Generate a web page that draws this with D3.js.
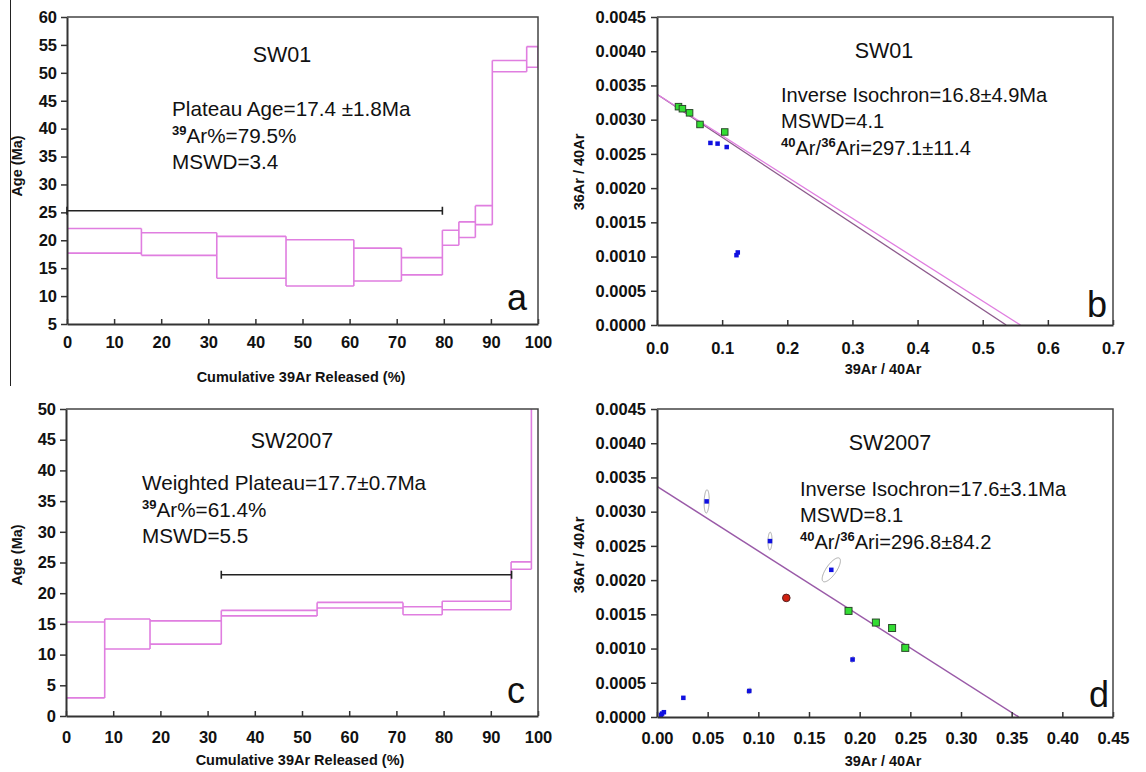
<!DOCTYPE html>
<html>
<head>
<meta charset="utf-8">
<script src="https://cdn.jsdelivr.net/npm/d3@7"></script>
<style>
  html, body { margin: 0; padding: 0; background: #fff; }
  svg { display: block; font-family: "Liberation Sans", Arial, sans-serif; }
</style>
</head>
<body>
<svg id="fig" width="1146" height="772"></svg>
<script>
// ---- SW01 age spectrum (step boundaries in cumulative %, 2-sigma envelope in Ma)
const spectrumA_bounds = [0, 15.8, 31.8, 46.5, 60.9, 71.0, 79.7, 83.2, 86.7, 90.3, 97.6, 100];
const spectrumA_low    = [17.7, 17.3, 13.2, 11.8, 12.7, 13.8, 19.1, 20.5, 22.8, 50.2, 51.0];
const spectrumA_high   = [22.1, 21.35, 20.7, 20.1, 18.6, 16.9, 21.8, 23.3, 26.2, 52.2, 54.7];
const plateauA = { from: 0, to: 79.7, age: 25.3 };
const textA = ["Plateau Age=17.4 ±1.8Ma", "39|Ar%=79.5%", "MSWD=3.4"];

// ---- SW2007 age spectrum
const spectrumC_bounds = [0, 8.2, 17.8, 32.9, 53.2, 71.4, 79.7, 94.3, 98.6, 100];
const spectrumC_low    = [2.95, 10.9, 11.7, 16.3, 17.6, 16.5, 17.3, 23.9, 55];
const spectrumC_high   = [15.3, 15.8, 15.5, 17.2, 18.5, 17.8, 18.7, 25.1, 70];
const plateauC = { from: 32.9, to: 94.4, age: 23.0 };
const textC = ["Weighted Plateau=17.7±0.7Ma", "39|Ar%=61.4%", "MSWD=5.5"];

// ---- SW01 inverse isochron
const isoB_greenX = [0.033, 0.039, 0.050, 0.066, 0.104];
const isoB_greenY = [0.00319, 0.00316, 0.00310, 0.00293, 0.00282];
const isoB_blueX  = [0.082, 0.093, 0.107, 0.122, 0.124];
const isoB_blueY  = [0.00266, 0.00265, 0.00260, 0.00102, 0.00106];
const isoB_intercept = 0.00337;           // 36Ar/40Ar at 39Ar/40Ar = 0
const isoB_xIntercepts = [0.536, 0.558];  // fitted line, envelope line
const textB = ["Inverse Isochron=16.8±4.9Ma", "MSWD=4.1", "40|Ar/|36|Ari=297.1±11.4"];

// ---- SW2007 inverse isochron
const isoD_greenX = [0.189, 0.216, 0.232, 0.245];
const isoD_greenY = [0.00155, 0.00138, 0.00130, 0.00101];
const isoD_redX = [0.1276];
const isoD_redY = [0.00174];
const isoD_blueX = [0.049, 0.1115, 0.172, 0.193, 0.091, 0.026, 0.0068, 0.0050, 0.0040];
const isoD_blueY = [0.00315, 0.00257, 0.00215, 0.00084, 0.00038, 0.00028, 0.00007, 0.00005, 0.00003];
// error ellipses for blue steps: x error, y error, correlation
const isoD_errX = [0.0025, 0.0020, 0.0090, 0.0020, 0.0022];
const isoD_errY = [0.00017, 0.00013, 0.000175, 0.00004, 0.00004];
const isoD_rho  = [0.15, 0.1, 0.75, 0.3, 0.3];
const isoD_intercept = 0.00337;
const isoD_xIntercept = 0.357;
const textD = ["Inverse Isochron=17.6±3.1Ma", "MSWD=8.1", "40|Ar/|36|Ari=296.8±84.2"];

const svg = d3.select("#fig");
const PINK = "#e07ee0";
const AXIS = "#333";

// thin rule at far left of the top row
svg.append("line").attr("x1", 10.5).attr("x2", 10.5).attr("y1", 0).attr("y2", 386)
  .attr("stroke", "#222").attr("stroke-width", 1);

function panel(opt) {
  const g = svg.append("g");
  const x = d3.scaleLinear().domain(opt.xDomain).range([opt.left, opt.right]);
  const y = d3.scaleLinear().domain(opt.yDomain).range([opt.bottom, opt.top]);
  const clipId = "clip-" + opt.letter;
  svg.append("clipPath").attr("id", clipId).append("rect")
    .attr("x", opt.left).attr("y", opt.top)
    .attr("width", opt.right - opt.left).attr("height", opt.bottom - opt.top);
  const plot = g.append("g").attr("clip-path", `url(#${clipId})`);

  // y axis (ticks outward)
  const yAxis = g.append("g").attr("transform", `translate(${opt.left},0)`)
    .call(d3.axisLeft(y).tickValues(opt.yTicks).tickFormat(opt.yFormat).tickSize(6).tickSizeOuter(0).tickPadding(opt.yPad));
  // x axis (ticks inward)
  const xAxis = g.append("g").attr("transform", `translate(0,${opt.bottom})`)
    .call(d3.axisBottom(x).tickValues(opt.xTicks).tickFormat(opt.xFormat).tickSize(-5).tickSizeOuter(0).tickPadding(opt.xPad));
  [yAxis, xAxis].forEach(a => {
    a.selectAll("path.domain").attr("stroke", AXIS).attr("stroke-width", 2);
    a.selectAll(".tick line").attr("stroke", AXIS).attr("stroke-width", 1.5);
    a.selectAll(".tick text").attr("fill", "#111").attr("font-size", 16.5).attr("font-weight", "bold");
  });
  // frame top / right
  g.append("path")
    .attr("d", `M${opt.left},${opt.top}H${opt.right}V${opt.bottom}`)
    .attr("fill", "none").attr("stroke", "#444").attr("stroke-width", 1.5);

  // axis titles
  g.append("text").attr("x", opt.xTitleX).attr("y", opt.xTitleY)
    .attr("text-anchor", "middle").attr("font-size", 14.5).attr("font-weight", "bold").attr("fill", "#111")
    .text(opt.xTitle);
  g.append("text").attr("transform", `translate(${opt.yTitleX},${opt.yTitleCy}) rotate(-90)`)
    .attr("text-anchor", "middle").attr("font-size", 14.5).attr("font-weight", "bold").attr("fill", "#111")
    .text(opt.yTitle);

  // sample title and annotation lines
  g.append("text").attr("x", opt.titleX).attr("y", opt.titleY).attr("text-anchor", "middle")
    .attr("font-size", 21.5).attr("fill", "#111").text(opt.title);
  opt.lines.forEach((ln, i) => {
    const t = g.append("text").attr("x", opt.textX).attr("y", opt.textY[i])
      .attr("font-size", opt.textSize).attr("fill", "#111");
    const parts = ln.split("|");
    if (parts.length === 1) { t.text(ln); return; }
    // mass numbers are raised, the rest sits on the baseline
    parts.forEach((p, k) => {
      const isSup = /^\d+$/.test(p);
      t.append("tspan").attr("font-size", isSup ? 13 : opt.textSize)
        .attr("font-weight", isSup ? "bold" : "normal")
        .attr("dy", isSup ? -8 : (k > 0 ? 8 : 0)).text(p);
    });
  });
  // panel letter
  g.append("text").attr("x", opt.letterX).attr("y", opt.letterY).attr("text-anchor", "middle")
    .attr("font-size", 36).attr("fill", "#111").text(opt.letter);

  return { g, plot, x, y };
}

function spectrum(p, bounds, low, high, plateau) {
  const path = d3.path();
  // horizontal segments of each step
  for (let i = 0; i < low.length; i++) {
    path.moveTo(p.x(bounds[i]), p.y(low[i])); path.lineTo(p.x(bounds[i + 1]), p.y(low[i]));
    path.moveTo(p.x(bounds[i]), p.y(high[i])); path.lineTo(p.x(bounds[i + 1]), p.y(high[i]));
  }
  // vertical connectors at every boundary
  for (let i = 0; i <= low.length; i++) {
    const vals = [];
    if (i > 0) vals.push(low[i - 1], high[i - 1]);
    if (i < low.length) vals.push(low[i], high[i]);
    path.moveTo(p.x(bounds[i]), p.y(d3.min(vals)));
    path.lineTo(p.x(bounds[i]), p.y(d3.max(vals)));
  }
  p.plot.append("path").attr("d", path.toString()).attr("fill", "none")
    .attr("stroke", PINK).attr("stroke-width", 1.6);
  // plateau bar
  const yy = p.y(plateau.age), x0 = p.x(plateau.from), x1 = p.x(plateau.to);
  p.g.append("path")
    .attr("d", `M${x0},${yy}H${x1}M${x0},${yy - 4}V${yy + 4}M${x1},${yy - 4}V${yy + 4}`)
    .attr("stroke", "#222").attr("stroke-width", 1.6).attr("fill", "none");
}

function isoLine(p, intercept, xInt, color, w) {
  p.plot.append("line")
    .attr("x1", p.x(0)).attr("y1", p.y(intercept))
    .attr("x2", p.x(xInt)).attr("y2", p.y(0))
    .attr("stroke", color).attr("stroke-width", w);
}

function squares(p, xs, ys, size, fill, stroke) {
  p.plot.append("g").selectAll("rect").data(xs).join("rect")
    .attr("x", (d) => p.x(d) - size / 2)
    .attr("y", (d, i) => p.y(ys[i]) - size / 2)
    .attr("width", size).attr("height", size)
    .attr("fill", fill).attr("stroke", stroke).attr("stroke-width", stroke === "none" ? 0 : 1);
}

// ---------------- Panel a ----------------
const pa = panel({
  left: 67, right: 538, top: 17, bottom: 324,
  xDomain: [0, 100], yDomain: [5, 60],
  xTicks: d3.range(0, 101, 10), yTicks: d3.range(5, 61, 5),
  xFormat: d3.format("d"), yFormat: d3.format("d"), xPad: 12, yPad: 4,
  xTitle: "Cumulative 39Ar Released (%)", xTitleX: 301, xTitleY: 382,
  yTitle: "Age (Ma)", yTitleX: 22, yTitleCy: 166,
  title: "SW01", titleX: 282, titleY: 62,
  lines: textA, textX: 172, textY: [116, 143, 169], textSize: 20.7,
  letter: "a", letterX: 517, letterY: 310
});
spectrum(pa, spectrumA_bounds, spectrumA_low, spectrumA_high, plateauA);

// ---------------- Panel c ----------------
const pc = panel({
  left: 66, right: 538, top: 409, bottom: 716,
  xDomain: [0, 100], yDomain: [0, 50],
  xTicks: d3.range(0, 101, 10), yTicks: d3.range(0, 51, 5),
  xFormat: d3.format("d"), yFormat: d3.format("d"), xPad: 15, yPad: 4,
  xTitle: "Cumulative 39Ar Released (%)", xTitleX: 300, xTitleY: 765,
  yTitle: "Age (Ma)", yTitleX: 22, yTitleCy: 555,
  title: "SW2007", titleX: 292, titleY: 448,
  lines: textC, textX: 142, textY: [490, 517, 543], textSize: 20.7,
  letter: "c", letterX: 516, letterY: 703
});
spectrum(pc, spectrumC_bounds, spectrumC_low, spectrumC_high, plateauC);

// ---------------- Panel b ----------------
const pb = panel({
  left: 657, right: 1113, top: 17, bottom: 325,
  xDomain: [0, 0.7], yDomain: [0, 0.0045],
  xTicks: d3.range(0, 0.7001, 0.1), yTicks: d3.range(0, 0.00451, 0.0005),
  xFormat: d3.format(".1f"), yFormat: d3.format(".4f"), xPad: 17, yPad: 5,
  xTitle: "39Ar / 40Ar", xTitleX: 883, xTitleY: 374,
  yTitle: "36Ar / 40Ar", yTitleX: 584, yTitleCy: 172,
  title: "SW01", titleX: 884, titleY: 58,
  lines: textB, textX: 781, textY: [102, 128, 154.5], textSize: 20.1,
  letter: "b", letterX: 1097, letterY: 317
});
isoLine(pb, isoB_intercept, isoB_xIntercepts[0], "#8c5a8c", 1.3);
isoLine(pb, isoB_intercept, isoB_xIntercepts[1], "#e07ee0", 1.3);
squares(pb, isoB_blueX, isoB_blueY, 4.5, "#1010e0", "none");
squares(pb, isoB_greenX, isoB_greenY, 6.5, "#33dd33", "#2a4a2a");

// ---------------- Panel d ----------------
const pd = panel({
  left: 657, right: 1113, top: 409, bottom: 717,
  xDomain: [0, 0.45], yDomain: [0, 0.0045],
  xTicks: d3.range(0, 0.4501, 0.05), yTicks: d3.range(0, 0.00451, 0.0005),
  xFormat: d3.format(".2f"), yFormat: d3.format(".4f"), xPad: 15, yPad: 5,
  xTitle: "39Ar / 40Ar", xTitleX: 883, xTitleY: 766,
  yTitle: "36Ar / 40Ar", yTitleX: 584, yTitleCy: 555,
  title: "SW2007", titleX: 890, titleY: 450,
  lines: textD, textX: 800, textY: [496, 522, 548.5], textSize: 20.1,
  letter: "d", letterX: 1099, letterY: 707
});
isoLine(pd, isoD_intercept, isoD_xIntercept, "#9a5aa8", 1.5);
// error ellipses
const ellipse = (cx, cy, ex, ey, rho) => d3.range(0, 2 * Math.PI + 0.01, Math.PI / 40).map(t => [
  pd.x(cx + ex * Math.cos(t)),
  pd.y(cy + ey * (rho * Math.cos(t) + Math.sqrt(1 - rho * rho) * Math.sin(t)))
]);
isoD_errX.forEach((ex, i) => {
  pd.plot.append("path")
    .attr("d", d3.line()(ellipse(isoD_blueX[i], isoD_blueY[i], ex, isoD_errY[i], isoD_rho[i])))
    .attr("fill", "none").attr("stroke", "#aaa").attr("stroke-width", 1);
});
squares(pd, isoD_blueX, isoD_blueY, 4.5, "#1010e0", "none");
squares(pd, isoD_greenX, isoD_greenY, 7, "#33dd33", "#2a4a2a");
pd.plot.append("g").selectAll("circle").data(isoD_redX).join("circle")
  .attr("cx", d => pd.x(d)).attr("cy", (d, i) => pd.y(isoD_redY[i])).attr("r", 3.8)
  .attr("fill", "#d02010").attr("stroke", "#552222").attr("stroke-width", 1);
</script>
</body>
</html>
